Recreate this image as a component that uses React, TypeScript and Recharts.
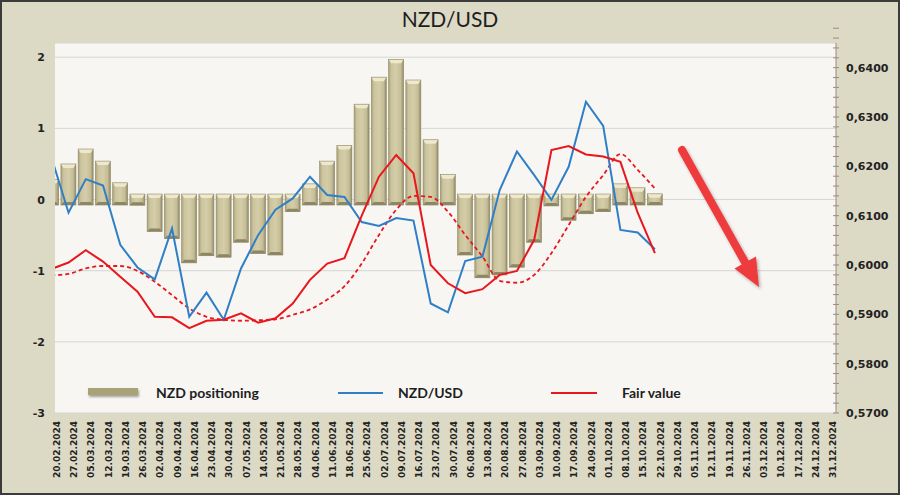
import React from "react";
import { ComposedChart, Bar, Line, XAxis, YAxis, CartesianGrid } from "recharts";

const dates = [
  "20.02.2024","27.02.2024","05.03.2024","12.03.2024","19.03.2024","26.03.2024","02.04.2024","09.04.2024",
  "16.04.2024","23.04.2024","30.04.2024","07.05.2024","14.05.2024","21.05.2024","28.05.2024","04.06.2024",
  "11.06.2024","18.06.2024","25.06.2024","02.07.2024","09.07.2024","16.07.2024","23.07.2024","30.07.2024",
  "06.08.2024","13.08.2024","20.08.2024","27.08.2024","03.09.2024","10.09.2024","17.09.2024","24.09.2024",
  "01.10.2024","08.10.2024","15.10.2024","22.10.2024","29.10.2024","05.11.2024","12.11.2024","19.11.2024",
  "26.11.2024","03.12.2024","10.12.2024","17.12.2024","24.12.2024","31.12.2024",
];

const positioning = [
  0.28, 0.50, 0.71, 0.54, 0.235, -0.08, -0.45, -0.55, -0.89, -0.79, -0.81, -0.60, -0.76, -0.78, -0.17, 0.22,
  0.54, 0.76, 1.34, 1.72, 1.97, 1.68, 0.84, 0.35, -0.78, -1.10, -1.06, -0.95, -0.60, -0.09, -0.29, -0.20,
  -0.17, 0.22, 0.165, 0.08,
];

const nzdusd = [
  0.6219, 0.6106, 0.6174, 0.6161, 0.6041, 0.5995, 0.5971, 0.6074, 0.5895, 0.5944, 0.5889, 0.5993, 0.6061, 0.6112,
  0.6135, 0.6179, 0.6142, 0.6138, 0.6087, 0.6079, 0.6095, 0.6090, 0.5922, 0.5904, 0.6008, 0.6017, 0.6152, 0.6230,
  0.6182, 0.6132, 0.6199, 0.6331, 0.6282, 0.6071, 0.6066, 0.6032,
];

const fairValue = [
  0.5992, 0.6005, 0.6030, 0.6007, 0.5976, 0.5946, 0.5895, 0.5894, 0.5872, 0.5887, 0.5889, 0.5902, 0.5883, 0.5892,
  0.5922, 0.5970, 0.6003, 0.6014, 0.6100, 0.6179, 0.6223, 0.6186, 0.6000, 0.5963, 0.5943, 0.5951, 0.5980, 0.5988,
  0.6051, 0.6233, 0.6241, 0.6224, 0.6220, 0.6209, 0.6106, 0.6024,
];

const fairValueAvg = [
  0.5979, 0.5982, 0.5993, 0.5998, 0.5998, 0.5988, 0.5966, 0.5939, 0.5912, 0.5895, 0.5889, 0.5887, 0.5888, 0.5890,
  0.5899, 0.5910, 0.5930, 0.5957, 0.6003, 0.6061, 0.6112, 0.6140, 0.6138, 0.6108, 0.6061, 0.6017, 0.5968, 0.5964,
  0.5980, 0.6024, 0.6081, 0.6138, 0.6182, 0.6225, 0.6193, 0.6155,
];

const leftTicks = [-3, -2, -1, 0, 1, 2];
const rightTicks = [0.57, 0.58, 0.59, 0.6, 0.61, 0.62, 0.63, 0.64];

const rows = dates.map((d, i) => ({
  i,
  date: d,
  pos: positioning[i] ?? null,
  nzdusd: nzdusd[i] ?? null,
  fair: fairValue[i] ?? null,
  fairAvg: fairValueAvg[i] ?? null,
}));
const xTicks = dates.map((_, i) => i);

// minor ticks on the right axis (5 per major step)
const rightMinor: number[] = [];
for (let k = 0; k < rightTicks.length; k++) {
  for (let m = 0; m < 5; m++) {
    rightMinor.push(Math.round((rightTicks[k] + m * 0.002) * 10000) / 10000);
  }
}

const AXIS_FONT = "'DejaVu Sans', Verdana, sans-serif";
const LEGEND_FONT = "Lato, 'Open Sans', sans-serif";

const BevelBar = (props: any) => {
  const { x, y, width, height, payload } = props;
  if (payload == null || payload.pos == null || width == null) return null;
  const y0 = Math.min(y, y + height);
  const y1 = Math.max(y, y + height);
  const positive = payload.pos >= 0;
  const top = positive ? y0 : y0 - 5.5;
  const bot = positive ? y1 + 5.5 : y1;
  const h = bot - top;
  const w = width;
  const b = Math.min(3, h / 3);
  return (
    <g>
      <rect x={x} y={top} width={w} height={h} fill="url(#barFace)" />
      <polygon points={`${x},${top} ${x + w},${top} ${x + w - 2.5},${top + b + 1} ${x + 2.5},${top + b + 1}`} fill="#eee9cc" />
      <polygon points={`${x + 2.5},${bot - b} ${x + w - 2.5},${bot - b} ${x + w},${bot} ${x},${bot}`} fill="#8d8665" />
      <rect x={x} y={top} width={w} height={h} fill="none" stroke="#8f8868" strokeWidth={0.6} />
    </g>
  );
};

const XTick = (props: any) => {
  const { x, payload } = props;
  const label = dates[payload.value];
  if (!label) return null;
  return (
    <text
      transform={`translate(${x + 5.7},421) rotate(-90)`}
      textAnchor="end"
      dominantBaseline="central"
      fontFamily={AXIS_FONT}
      fontWeight="bold"
      fontSize={9}
      fill="#222"
    >
      {label}
    </text>
  );
};

const LeftTick = (props: any) => {
  const { y, payload } = props;
  return (
    <text x={45} y={y + 4} textAnchor="end" fontFamily={AXIS_FONT} fontWeight="bold" fontSize={11} fill="#222">
      {payload.value}
    </text>
  );
};

const RightTick = (props: any) => {
  const { y, payload } = props;
  const v = payload.value as number;
  const major = Math.abs(v * 100 - Math.round(v * 100)) < 1e-6;
  return (
    <g>
      <line x1={833} x2={839} y1={y} y2={y} stroke="#9a8a84" strokeWidth={1} />
      {major && (
        <text x={846} y={y + 4} textAnchor="start" fontFamily={AXIS_FONT} fontWeight="bold" fontSize={11} fill="#222">
          {v.toFixed(4).replace(".", ",")}
        </text>
      )}
    </g>
  );
};

export default function App() {
  return (
    <div style={{ position: "absolute", left: 0, top: 0, width: 900, height: 495, background: "#dcd9c5", overflow: "hidden" }}>
      <svg width={0} height={0} style={{ position: "absolute" }}>
        <defs>
          <linearGradient id="barFace" x1="0" y1="0" x2="1" y2="0">
            <stop offset="0%" stopColor="#a8a17b" />
            <stop offset="18%" stopColor="#cbc49d" />
            <stop offset="50%" stopColor="#d4cda8" />
            <stop offset="82%" stopColor="#c4bd95" />
            <stop offset="100%" stopColor="#8f8867" />
          </linearGradient>
          <filter id="arrowShadow" x="-20%" y="-20%" width="140%" height="140%">
            <feDropShadow dx="1.5" dy="2" stdDeviation="1.5" floodColor="#000" floodOpacity="0.3" />
          </filter>
          <filter id="iconShadow" x="-20%" y="-50%" width="140%" height="250%">
            <feDropShadow dx="1" dy="2" stdDeviation="1.2" floodColor="#000" floodOpacity="0.35" />
          </filter>
        </defs>
      </svg>
      <div style={{ position: "absolute", left: 0, top: 0 }}>
        <ComposedChart width={900} height={495} data={rows} margin={{ top: 43, right: 0, bottom: 12, left: 0 }}>
          <CartesianGrid yAxisId="left" vertical={false} stroke="#d6d6d2" fill="#f7f6f2" />
          <XAxis
            type="number"
            dataKey="i"
            domain={[0.215, 45.5]}
            allowDataOverflow
            ticks={xTicks}
            interval={0}
            tick={<XTick />}
            axisLine={false}
            tickLine={false}
            height={70}
          />
          <YAxis
            yAxisId="left"
            orientation="left"
            width={55}
            domain={[-3, 2.2]}
            ticks={leftTicks}
            allowDataOverflow
            axisLine={false}
            tickLine={false}
            tick={<LeftTick />}
            interval={0}
          />
          <YAxis
            yAxisId="right"
            orientation="right"
            width={64}
            domain={[0.57, 0.645]}
            ticks={rightMinor}
            allowDataOverflow
            axisLine={{ stroke: "#9a8a84", strokeWidth: 1 }}
            tickLine={false}
            tick={<RightTick />}
            interval={0}
          />
          <Bar yAxisId="left" dataKey="pos" barSize={15} shape={<BevelBar />} isAnimationActive={false} />
          <Line yAxisId="right" type="monotone" dataKey="fairAvg" stroke="#e8171d" strokeWidth={1.8} strokeDasharray="4 3" dot={false} isAnimationActive={false} connectNulls={false} />
          <Line yAxisId="right" type="linear" dataKey="nzdusd" stroke="#2f7fc7" strokeWidth={2} dot={false} isAnimationActive={false} />
          <Line yAxisId="right" type="linear" dataKey="fair" stroke="#e8171d" strokeWidth={2} dot={false} isAnimationActive={false} />
        </ComposedChart>
      </div>
      <svg width={900} height={495} style={{ position: "absolute", left: 0, top: 0, pointerEvents: "none" }}>
        <text x={450} y={27} textAnchor="middle" fontFamily={LEGEND_FONT} fontSize={21} fill="#1e1e1e">NZD/USD</text>
        <rect x={88} y={388} width={50} height={7} fill="#a8a276" filter="url(#iconShadow)" />
        <text x={156} y={398} fontFamily={LEGEND_FONT} fontWeight="bold" fontSize={14} fill="#1e1e1e">NZD positioning</text>
        <line x1={338} x2={383} y1={393} y2={393} stroke="#2f7fc7" strokeWidth={2} />
        <text x={398} y={398} fontFamily={LEGEND_FONT} fontWeight="bold" fontSize={14} fill="#1e1e1e">NZD/USD</text>
        <line x1={551} x2={597} y1={393} y2={393} stroke="#e8171d" strokeWidth={2} />
        <text x={622} y={398} fontFamily={LEGEND_FONT} fontWeight="bold" fontSize={14} fill="#1e1e1e">Fair value</text>
        <g filter="url(#arrowShadow)">
          <line x1={682} y1={150} x2={746} y2={264} stroke="#ee3b3e" strokeWidth={8} strokeLinecap="round" />
          <polygon points="759,287 734.5,268.5 756,256.5" fill="#ee3b3e" />
        </g>
      </svg>
      <div style={{ position: "absolute", left: 0, top: 0, width: 900, height: 495, boxSizing: "border-box", border: "2px solid #3b3b3b", pointerEvents: "none" }} />
    </div>
  );
}
